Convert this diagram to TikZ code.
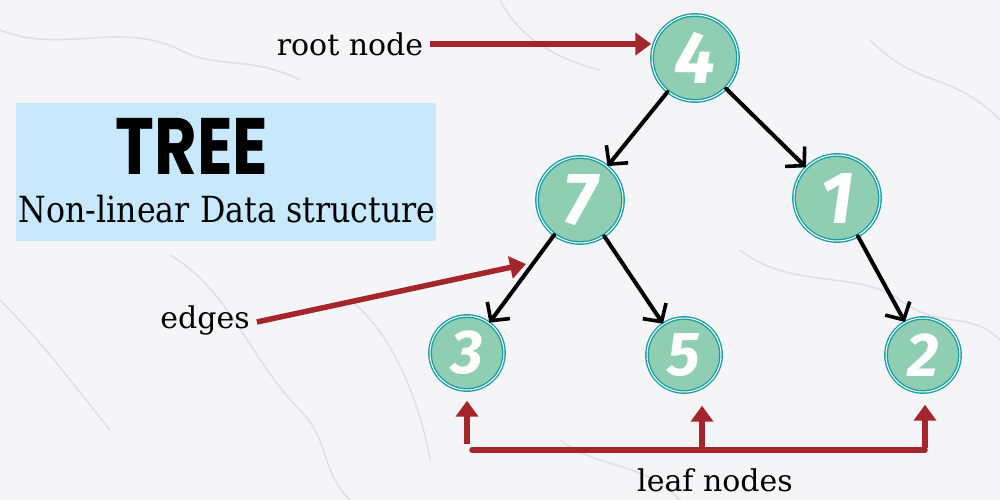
\documentclass[tikz,border=0pt]{standalone}
\usepackage{fontspec}
\usepackage{graphicx}
\setmainfont{DejaVu Serif}
\newfontfamily\titlefont{Poppins}
\newfontfamily\digitfont{Fira Sans}
\usetikzlibrary{arrows.meta,calc}
\definecolor{bgmarble}{HTML}{F5F5F7}
\definecolor{vein}{HTML}{CFCFD5}
\definecolor{boxblue}{HTML}{C8E9FC}
\definecolor{mint}{HTML}{8FCEB2}
\definecolor{ringteal}{HTML}{1A9FA3}
\definecolor{arrowred}{HTML}{A5262A}
\tikzset{
  treenode/.style={circle, fill=mint, draw=ringteal, double=white, double distance=1pt,
    line width=1.4pt, inner sep=0pt, text=white},
  bignode/.style={treenode, minimum size=86pt, font=\digitfont\bfseries\itshape\fontsize{74}{74}\selectfont},
  leafnode/.style={treenode, minimum size=74pt, font=\digitfont\bfseries\itshape\fontsize{62}{62}\selectfont},
  treeedge/.style={draw=black, line width=4pt, line cap=round,
    -{Straight Barb[length=13pt,width=28pt,line width=3.6pt]}},
  redarrow/.style={draw=arrowred, line width=5.5pt, -{Triangle[length=16pt,width=22pt]}},
  redline/.style={draw=arrowred, line width=5.5pt, line cap=round},
  lbl/.style={font=\fontsize{30}{30}\selectfont, text=black, inner sep=1pt},
  veinline/.style={draw=vein, line width=1.6pt, opacity=0.55, line cap=round}
}
\begin{document}
\begin{tikzpicture}[x=1pt,y=-1pt]
\useasboundingbox (0,0) rectangle (1000,500);
% marble background
\fill[bgmarble] (0,0) rectangle (1000,500);
\begin{scope}[veinline]
  \draw (0,30) .. controls (60,55) and (120,20) .. (180,50) .. controls (220,70) and (250,55) .. (300,80);
  \draw (170,255) .. controls (230,290) and (250,360) .. (300,410) .. controls (330,440) and (320,470) .. (350,500);
  \draw (350,300) .. controls (390,330) and (420,400) .. (430,460);
  \draw (740,250) .. controls (790,290) and (860,270) .. (900,300) .. controls (940,330) and (970,310) .. (1000,340);
  \draw (870,40) .. controls (920,90) and (950,70) .. (1000,120);
  \draw (0,300) .. controls (40,340) and (70,380) .. (110,430);
  \draw (500,0) .. controls (520,40) and (560,60) .. (600,70);
  \draw (560,440) .. controls (600,470) and (640,460) .. (680,500);
\end{scope}
% title box
\node[fill=boxblue, minimum width=420pt, minimum height=138pt, inner sep=0pt] (box) at (226,172) {};
\node[inner sep=0pt, text=black] (title) at (192,146)
  {\scalebox{0.82}[1]{\titlefont\bfseries\fontsize{80}{80}\selectfont TREE}};
\node[inner sep=0pt, text=black] (subtitle) at (227,209)
  {\scalebox{0.88}[1]{\fontsize{36}{36}\selectfont Non-linear Data structure}};
% tree nodes
\node[bignode] (n4) at (695,58) {4};
\node[bignode] (n7) at (580,200) {7};
\node[bignode] (n1) at (837,198) {1};
\node[leafnode] (n3) at (467,353) {3};
\node[leafnode] (n5) at (684,355) {5};
\node[leafnode] (n2) at (923,355) {2};
% tree edges
\draw[treeedge] (n4) -- (n7);
\draw[treeedge] (n4) -- (n1);
\draw[treeedge] (n7) -- (n3);
\draw[treeedge] (n7) -- (n5);
\draw[treeedge] (n1) -- (n2);
% labels
\node[lbl] (rootlbl) at (350,44) {root node};
\node[lbl] (edgeslbl) at (205,320) {edges};
\node[lbl] (leaflbl) at (715,480) {leaf nodes};
% red arrows
\draw[redarrow] ($(rootlbl.east)+(6,0)$) -- (rootlbl.east -| n4.west);
\coordinate (edgetip) at (526,264);
\draw[redarrow] ($(edgeslbl.east)+(6,2)$) -- (edgetip);
\coordinate (hl) at (472,450);
\coordinate (hr) at (925,450);
\draw[redline] (hl) -- (hr);
\draw[redarrow] ($(n3.south |- hl)+(0,-6)$) -- ($(n3.south)+(0,10)$);
\draw[redarrow] ($(n5.south |- hl)+(18,-2)$) -- ($(n5.south)+(18,13)$);
\draw[redarrow] ($(hr)+(0,-2)$) -- ($(n2.south)+(2,12)$);
\end{tikzpicture}
\end{document}
